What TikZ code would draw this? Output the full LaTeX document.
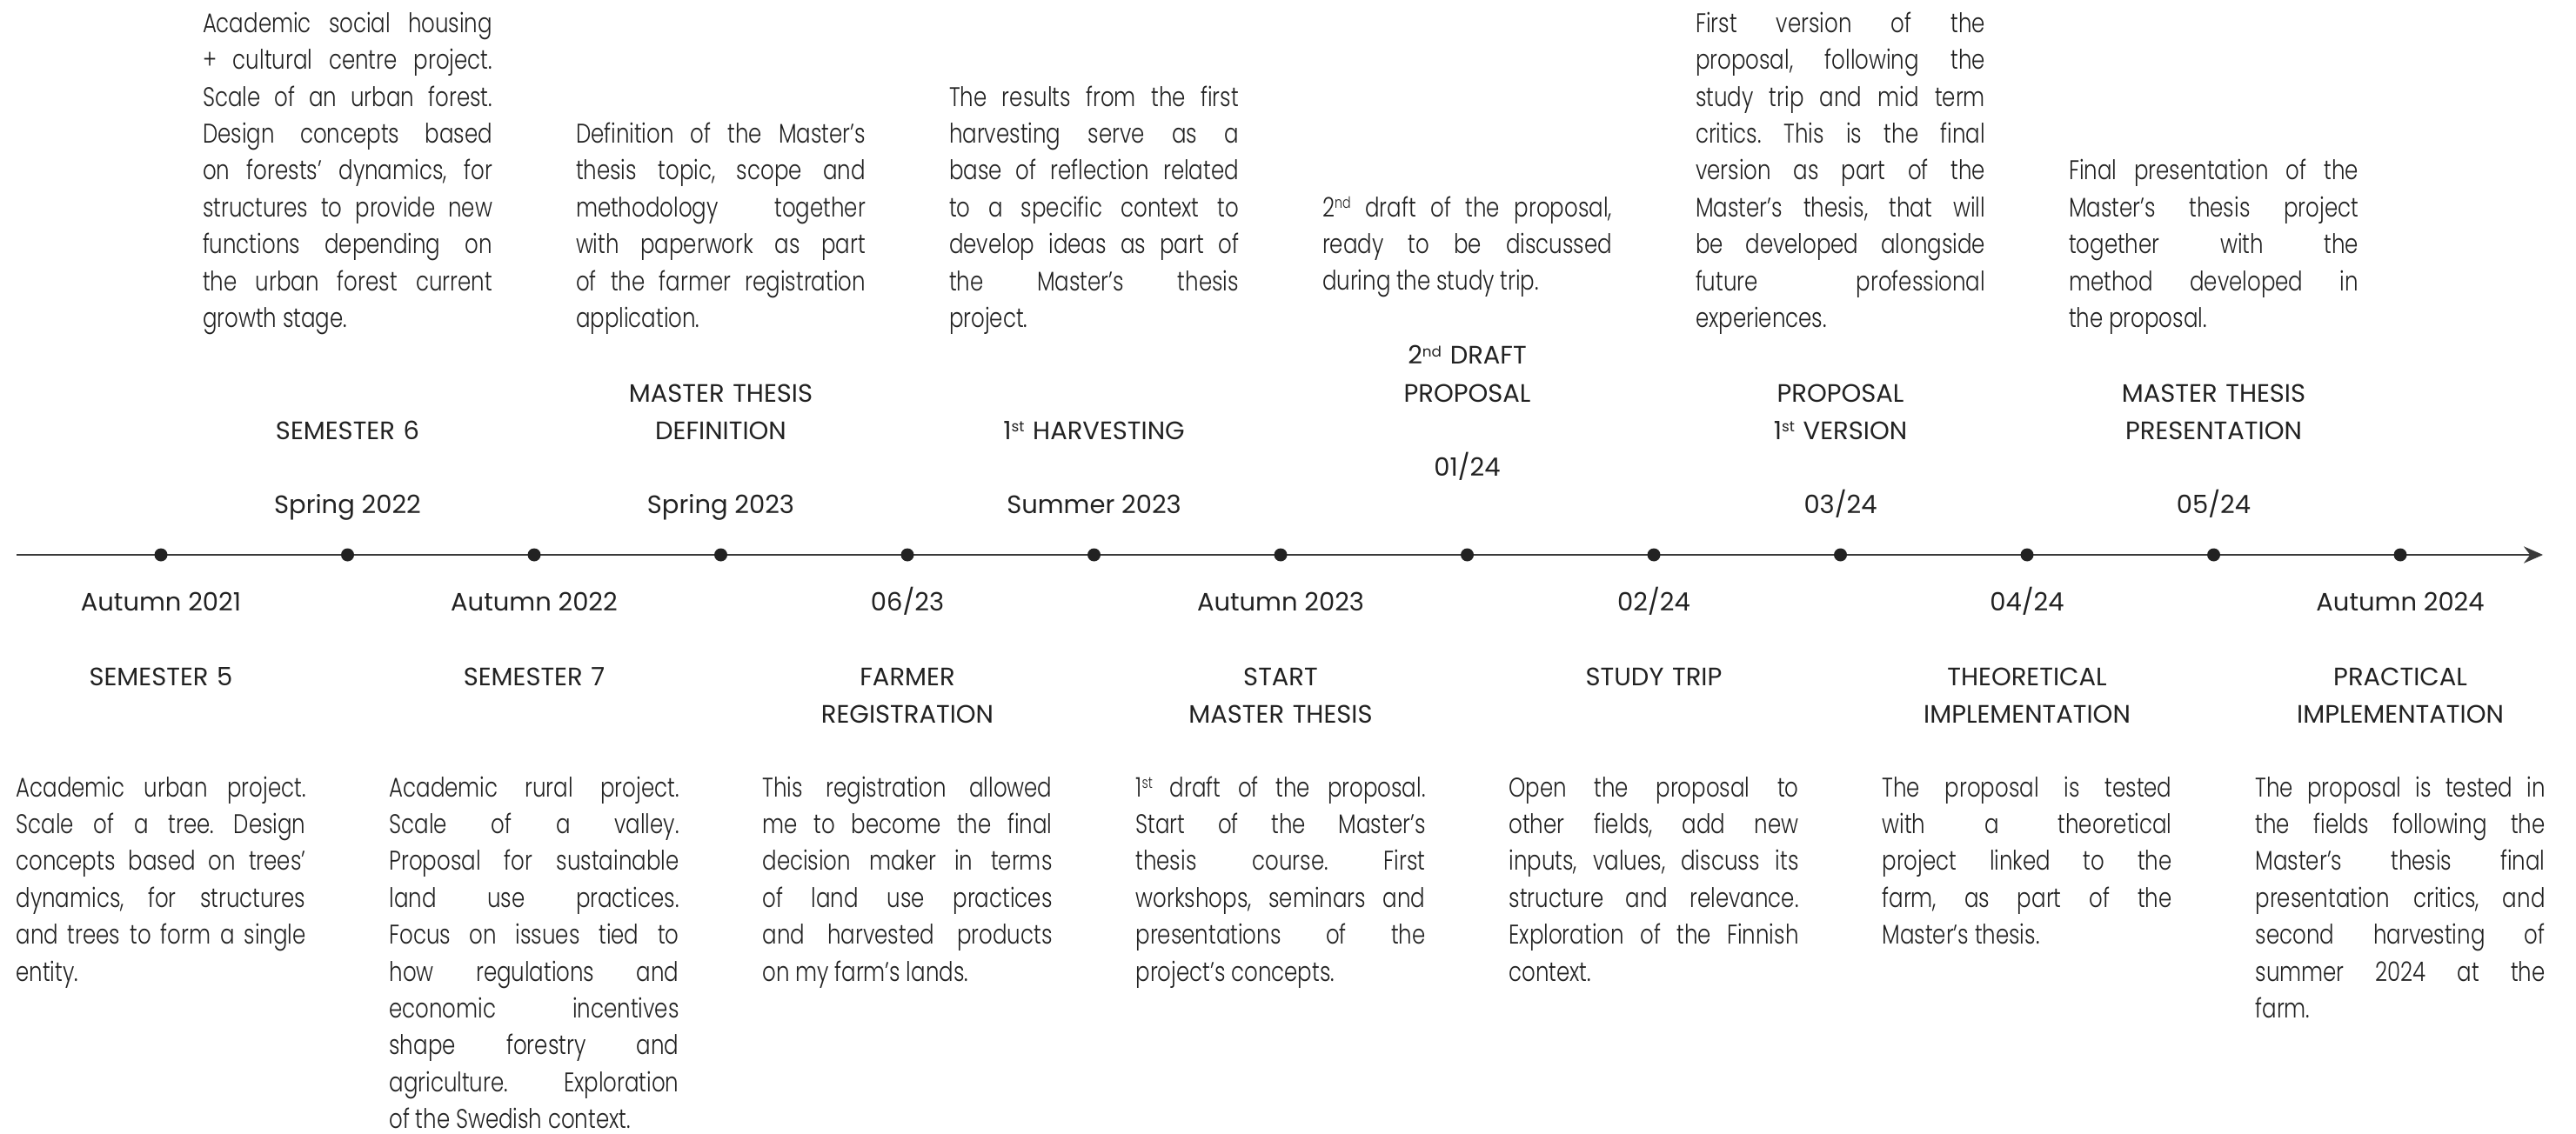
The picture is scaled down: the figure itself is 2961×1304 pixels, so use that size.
\documentclass[tikz,border=0pt]{standalone}
\usepackage{fontspec}
\usepackage{graphicx}
\usetikzlibrary{arrows.meta}
\newfontfamily\descfont{Poppins Light}[FakeStretch=0.79]
\newfontfamily\headfont{Poppins}
\definecolor{ink}{HTML}{222222}
\definecolor{axisgray}{HTML}{3a3a3a}
% small raised ordinal letters (1st, 2nd)
\newcommand\ord[1]{\raisebox{0.3em}{\scalebox{0.58}{#1}}}
% justified blocks: break only where the lines are ended by hand
\hyphenpenalty=10000
\exhyphenpenalty=10000
\tolerance=10000
\hbadness=10000
\frenchspacing
\begin{document}
\begin{tikzpicture}[x=0.25pt,y=-0.25pt,
  every node/.style={inner sep=0pt, outer sep=0pt, text=ink},
  desc/.style={anchor=base, text width=83.25pt, align=justify,
    font=\descfont\fontsize{7.75pt}{10.6pt}\selectfont},
  head/.style={anchor=base, text width=120pt, align=center,
    font=\headfont\fontsize{7.25pt}{10.75pt}\selectfont},
  when/.style={anchor=base, font=\headfont\fontsize{7.25pt}{10.75pt}\selectfont},
  dot/.style={circle, fill=ink, minimum size=3.75pt},
  axis/.style={draw=axisgray, line width=0.62pt, -{Stealth[length=5.5pt, width=4.8pt]}}]

\fill[white] (0,0) rectangle (2961,1304);
\useasboundingbox (0,0) rectangle (2961,1304);

% time axis
\coordinate (axstart) at (19,638);
\coordinate (axend) at (2923,638);
\draw[axis] (axstart) -- (axend);
\foreach \k in {0,...,12}{
  \node[dot] (d\k) at ({185+214.5*\k},638) {};
}

% ---------- events below the axis ----------
\node[when] (w0) at (185,702) {Autumn 2021};
\node[head] (h0) at (185,788) {SEMESTER 5};
\node[desc] (t0) at (185,916) {Academic urban project.\linebreak
Scale of a tree. Design\linebreak
concepts based on trees’\linebreak
dynamics, for structures\linebreak
and trees to form a single\linebreak
entity.};

\node[when] (w2) at (614,702) {Autumn 2022};
\node[head] (h2) at (614,788) {SEMESTER 7};
\node[desc] (t2) at (614,916) {Academic rural project.\linebreak
Scale of a valley.\linebreak
Proposal for sustainable\linebreak
land use practices.\linebreak
Focus on issues tied to\linebreak
how regulations and\linebreak
economic incentives\linebreak
shape forestry and\linebreak
agriculture. Exploration\linebreak
of the Swedish context.};

\node[when] (w4) at (1043,702) {06/23};
\node[head] (h4) at (1043,788) {FARMER\\REGISTRATION};
\node[desc] (t4) at (1043,916) {This registration allowed\linebreak
me to become the final\linebreak
decision maker in terms\linebreak
of land use practices\linebreak
and harvested products\linebreak
on my farm’s lands.};

\node[when] (w6) at (1472,702) {Autumn 2023};
\node[head] (h6) at (1472,788) {START\\MASTER THESIS};
\node[desc] (t6) at (1472,916) {1\ord{st} draft of the proposal.\linebreak
Start of the Master’s\linebreak
thesis course. First\linebreak
workshops, seminars and\linebreak
presentations of the\linebreak
project’s concepts.};

\node[when] (w8) at (1901,702) {02/24};
\node[head] (h8) at (1901,788) {STUDY TRIP};
\node[desc] (t8) at (1901,916) {Open the proposal to\linebreak
other fields, add new\linebreak
inputs, values, discuss its\linebreak
structure and relevance.\linebreak
Exploration of the Finnish\linebreak
context.};

\node[when] (w10) at (2330,702) {04/24};
\node[head] (h10) at (2330,788) {THEORETICAL\\IMPLEMENTATION};
\node[desc] (t10) at (2330,916) {The proposal is tested\linebreak
with a theoretical\linebreak
project linked to the\linebreak
farm, as part of the\linebreak
Master’s thesis.};

\node[when] (w12) at (2759,702) {Autumn 2024};
\node[head] (h12) at (2759,788) {PRACTICAL\\IMPLEMENTATION};
\node[desc] (t12) at (2759,916) {The proposal is tested in\linebreak
the fields following the\linebreak
Master’s thesis final\linebreak
presentation critics, and\linebreak
second harvesting of\linebreak
summer 2024 at the\linebreak
farm.};

% ---------- events above the axis ----------
\node[when] (w1) at (399.5,590) {Spring 2022};
\node[head] (h1) at (399.5,505) {SEMESTER 6};
\node[desc] (t1) at (399.5,37.3) {Academic social housing\linebreak
+ cultural centre project.\linebreak
Scale of an urban forest.\linebreak
Design concepts based\linebreak
on forests’ dynamics, for\linebreak
structures to provide new\linebreak
functions depending on\linebreak
the urban forest current\linebreak
growth stage.};

\node[when] (w3) at (828.5,590) {Spring 2023};
\node[head] (h3) at (828.5,462) {MASTER THESIS\\DEFINITION};
\node[desc] (t3) at (828.5,164.5) {Definition of the Master’s\linebreak
thesis topic, scope and\linebreak
methodology together\linebreak
with paperwork as part\linebreak
of the farmer registration\linebreak
application.};

\node[when] (w5) at (1257.5,590) {Summer 2023};
\node[head] (h5) at (1257.5,505) {1\ord{st} HARVESTING};
\node[desc] (t5) at (1257.5,122.1) {The results from the first\linebreak
harvesting serve as a\linebreak
base of reflection related\linebreak
to a specific context to\linebreak
develop ideas as part of\linebreak
the Master’s thesis\linebreak
project.};

\node[when] (w7) at (1686.5,547) {01/24};
\node[head] (h7) at (1686.5,419) {2\ord{nd} DRAFT\\PROPOSAL};
\node[desc] (t7) at (1686.5,249.2) {2\ord{nd} draft of the proposal,\linebreak
ready to be discussed\linebreak
during the study trip.};

\node[when] (w9) at (2115.5,590) {03/24};
\node[head] (h9) at (2115.5,462) {PROPOSAL\\1\ord{st} VERSION};
\node[desc] (t9) at (2115.5,37.3) {First version of the\linebreak
proposal, following the\linebreak
study trip and mid term\linebreak
critics. This is the final\linebreak
version as part of the\linebreak
Master’s thesis, that will\linebreak
be developed alongside\linebreak
future professional\linebreak
experiences.};

\node[when] (w11) at (2544.5,590) {05/24};
\node[head] (h11) at (2544.5,462) {MASTER THESIS\\PRESENTATION};
\node[desc] (t11) at (2544.5,206.9) {Final presentation of the\linebreak
Master’s thesis project\linebreak
together with the\linebreak
method developed in\linebreak
the proposal.};
\end{tikzpicture}
\end{document}
